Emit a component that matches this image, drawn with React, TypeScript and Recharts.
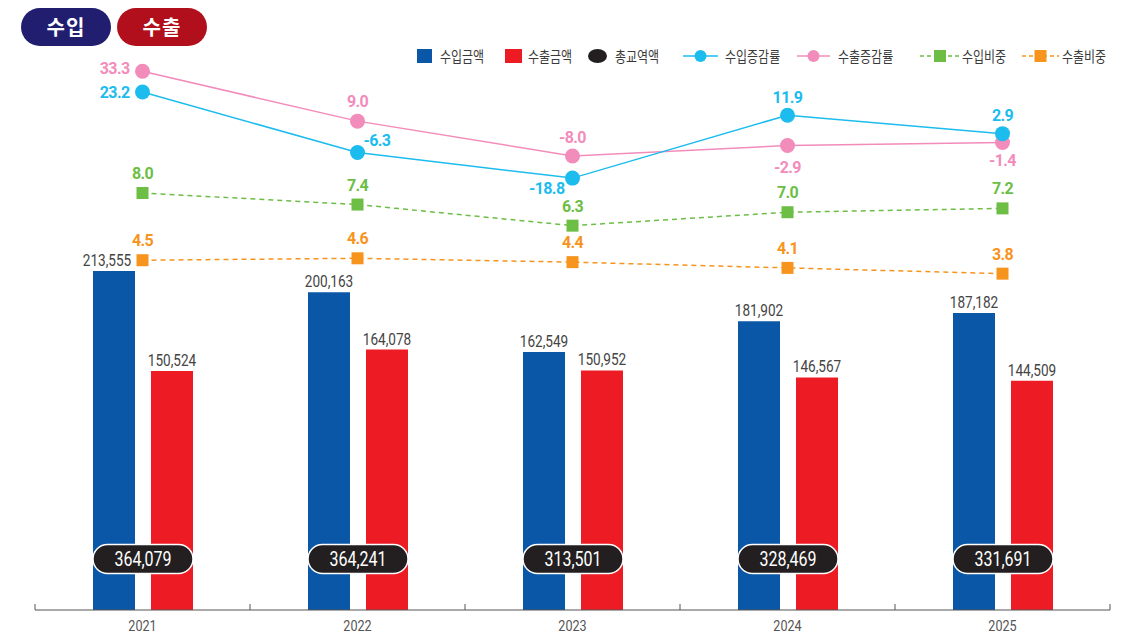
import React from 'react';
import { ComposedChart, Bar, Line, XAxis, YAxis, LabelList } from 'recharts';

// ---- data ----
const years = ['2021', '2022', '2023', '2024', '2025'];
const importAmt = [213555, 200163, 162549, 181902, 187182];
const exportAmt = [150524, 164078, 150952, 146567, 144509];
const totalAmt = [364079, 364241, 313501, 328469, 331691];
const importRate = [23.2, -6.3, -18.8, 11.9, 2.9];
const exportRate = [33.3, 9.0, -8.0, -2.9, -1.4];
const importShare = [8.0, 7.4, 6.3, 7.0, 7.2];
const exportShare = [4.5, 4.6, 4.4, 4.1, 3.8];

const data = years.map((y, i) => ({
  year: y,
  importAmt: importAmt[i],
  exportAmt: exportAmt[i],
  total: totalAmt[i],
  importRate: importRate[i],
  exportRate: exportRate[i],
  importShare: importShare[i],
  exportShare: exportShare[i],
}));

// ---- styling / layout ----
const W = 1141;
const H = 634;
const M = { top: 50, right: 31, left: 35, bottom: 0 };
const BAND = (W - M.left - M.right) / years.length;
const BAR_GAP = 16;
const FONT = 'Roboto, "Noto Sans CJK KR", sans-serif';
const KFONT = '"Noto Sans CJK KR", "Noto Sans", sans-serif';

const C = {
  imp: '#0a57a8',
  exp: '#ed1c24',
  total: '#231f20',
  impRate: '#1cbcee',
  expRate: '#f28cbb',
  impShare: '#6cbe45',
  expShare: '#f7941d',
};

// label placement: [anchor, dx, dy]
type Place = [string, number, number];
const impRatePlace: Place[] = [
  ['end', -13, 6], ['start', 6, -6], ['end', -8, 16], ['middle', 0, -12], ['middle', 0, -13],
];
const expRatePlace: Place[] = [
  ['end', -13, 3], ['middle', 0, -14], ['middle', 0, -13], ['middle', 0, 27], ['middle', 0, 24],
];
const sharePlace: Place[] = [
  ['middle', 0, -14], ['middle', 0, -14], ['middle', 0, -14], ['middle', 0, -14], ['middle', 0, -14],
];
const impLabelDx = [-7, 0, 0, 0, 0];

// narrow text helper (horizontal compression of a real text element)
const NarrowText = ({ x, y, size, fill, sx, children }: any) => (
  <text
    transform={`translate(${x},${y}) scale(${sx},1)`}
    x={0}
    y={0}
    textAnchor="middle"
    fill={fill}
    fontSize={size}
    fontFamily={FONT}
  >
    {children}
  </text>
);

const makeLineLabel = (color: string, place: Place[], size: number) => (props: any) => {
  const { x, y, value, index } = props;
  const p = place[index] || ['middle', 0, -14];
  return (
    <text
      x={x + p[1]}
      y={y + p[2]}
      textAnchor={p[0] as any}
      fill={color}
      fontSize={size}
      fontWeight={700}
      fontFamily={FONT}
      letterSpacing={-0.6}
    >
      {Number(value).toFixed(1)}
    </text>
  );
};

const makeBarLabel = (dxs: number[]) => (props: any) => {
  const { x, y, width, value, index } = props;
  return (
    <NarrowText x={x + width / 2 + (dxs[index] || 0)} y={y - 5} size={16} fill="#444" sx={0.85}>
      {Number(value).toLocaleString('en-US')}
    </NarrowText>
  );
};

const TotalPill = (props: any) => {
  const { x, y, height, value } = props;
  const cx = x - BAR_GAP / 2;
  const cy = y + height - 51;
  const w = 100;
  const h = 29;
  return (
    <g>
      <rect x={cx - w / 2} y={cy - h / 2} width={w} height={h} rx={14.5} fill={C.total} stroke="#fff" strokeWidth={1.5} />
      <NarrowText x={cx} y={cy + 7} size={20} fill="#fff" sx={0.8}>
        {Number(value).toLocaleString('en-US')}
      </NarrowText>
    </g>
  );
};

const squareDot = (color: string) => (props: any) => {
  const { cx, cy, index } = props;
  return <rect key={`sq-${color}-${index}`} x={cx - 6} y={cy - 6} width={12} height={12} fill={color} />;
};

const XTick = (props: any) => {
  const { x, y, payload, index } = props;
  return (
    <g>
      <NarrowText x={x} y={y + 20.5} size={15} fill="#555" sx={0.84}>
        {payload.value}
      </NarrowText>
      <line x1={x + BAND / 2} x2={x + BAND / 2} y1={y - 6} y2={y} stroke="#555" />
      {index === 0 && <line x1={x - BAND / 2} x2={x - BAND / 2} y1={y - 6} y2={y} stroke="#555" />}
    </g>
  );
};

// legend: marker left, marker width, text left
const legendItems: { label: string; kind: string; color: string; mLeft: number; mWidth: number; tLeft: number }[] = [
  { label: '수입금액', kind: 'square', color: C.imp, mLeft: 417, mWidth: 15, tLeft: 440 },
  { label: '수출금액', kind: 'square', color: C.exp, mLeft: 505, mWidth: 17, tLeft: 528 },
  { label: '총교역액', kind: 'circle', color: C.total, mLeft: 588, mWidth: 19, tLeft: 615 },
  { label: '수입증감률', kind: 'line', color: C.impRate, mLeft: 683, mWidth: 35, tLeft: 725 },
  { label: '수출증감률', kind: 'line', color: C.expRate, mLeft: 797, mWidth: 33, tLeft: 838 },
  { label: '수입비중', kind: 'dash', color: C.impShare, mLeft: 920, mWidth: 40, tLeft: 962 },
  { label: '수출비중', kind: 'dash', color: C.expShare, mLeft: 1022, mWidth: 37, tLeft: 1062 },
];

const LegendMarker = ({ kind, color, w }: { kind: string; color: string; w: number }) => {
  if (kind === 'square') {
    return (
      <svg width={w} height={14}>
        <rect x={0} y={0} width={w} height={14} fill={color} />
      </svg>
    );
  }
  if (kind === 'circle') {
    return (
      <svg width={w} height={14}>
        <ellipse cx={w / 2} cy={7} rx={w / 2} ry={7} fill={color} />
      </svg>
    );
  }
  if (kind === 'line') {
    return (
      <svg width={w} height={14}>
        <line x1={0} x2={w} y1={7} y2={7} stroke={color} strokeWidth={1.5} />
        <circle cx={w / 2} cy={7} r={6} fill={color} />
      </svg>
    );
  }
  return (
    <svg width={w} height={14}>
      <line x1={0} x2={w} y1={7} y2={7} stroke={color} strokeWidth={1.5} strokeDasharray="4 3" />
      <rect x={w / 2 - 6} y={1} width={12} height={12} fill={color} />
    </svg>
  );
};

const HeaderPill = ({ text, bg, left }: { text: string; bg: string; left: number }) => (
  <div
    style={{
      position: 'absolute',
      left,
      top: 8,
      width: 90,
      height: 38,
      borderRadius: 19,
      background: bg,
      color: '#fff',
      fontFamily: KFONT,
      fontWeight: 700,
      fontSize: 20,
      lineHeight: '38px',
      textAlign: 'center',
      letterSpacing: 1,
    }}
  >
    {text}
  </div>
);

export default function App() {
  return (
    <div style={{ position: 'absolute', left: 0, top: 0, width: W, height: H, background: '#fff', fontFamily: FONT }}>
      <ComposedChart width={W} height={H} data={data} margin={M} barGap={BAR_GAP}>
        <XAxis
          dataKey="year"
          height={24}
          axisLine={{ stroke: '#555' }}
          tickLine={false}
          tickSize={0}
          tickMargin={0}
          tick={<XTick />}
          interval={0}
        />
        <YAxis yAxisId="amt" hide type="number" domain={[0, 352867]} allowDataOverflow />
        <YAxis yAxisId="rate" hide type="number" domain={[-229.5, 43.7]} allowDataOverflow />
        <YAxis yAxisId="share" hide type="number" domain={[-13.72, 15.45]} allowDataOverflow />

        <Bar yAxisId="amt" dataKey="importAmt" fill={C.imp} barSize={42} isAnimationActive={false}>
          <LabelList dataKey="importAmt" content={makeBarLabel(impLabelDx)} />
        </Bar>
        <Bar yAxisId="amt" dataKey="exportAmt" fill={C.exp} barSize={42} isAnimationActive={false}>
          <LabelList dataKey="exportAmt" content={makeBarLabel([0, 0, 0, 0, 0])} />
          <LabelList dataKey="total" content={TotalPill} />
        </Bar>

        <Line
          yAxisId="rate"
          dataKey="exportRate"
          stroke={C.expRate}
          strokeWidth={1.5}
          dot={{ r: 7.5, fill: C.expRate, stroke: 'none' }}
          activeDot={false}
          isAnimationActive={false}
        >
          <LabelList dataKey="exportRate" content={makeLineLabel(C.expRate, expRatePlace, 16)} />
        </Line>
        <Line
          yAxisId="rate"
          dataKey="importRate"
          stroke={C.impRate}
          strokeWidth={1.5}
          dot={{ r: 7.5, fill: C.impRate, stroke: 'none' }}
          activeDot={false}
          isAnimationActive={false}
        >
          <LabelList dataKey="importRate" content={makeLineLabel(C.impRate, impRatePlace, 16)} />
        </Line>
        <Line
          yAxisId="share"
          dataKey="importShare"
          stroke={C.impShare}
          strokeWidth={1.5}
          strokeDasharray="5 4"
          dot={squareDot(C.impShare)}
          activeDot={false}
          isAnimationActive={false}
        >
          <LabelList dataKey="importShare" content={makeLineLabel(C.impShare, sharePlace, 16)} />
        </Line>
        <Line
          yAxisId="share"
          dataKey="exportShare"
          stroke={C.expShare}
          strokeWidth={1.5}
          strokeDasharray="5 4"
          dot={squareDot(C.expShare)}
          activeDot={false}
          isAnimationActive={false}
        >
          <LabelList dataKey="exportShare" content={makeLineLabel(C.expShare, sharePlace, 16)} />
        </Line>
      </ComposedChart>

      <HeaderPill text="수입" bg="#211d6f" left={21} />
      <HeaderPill text="수출" bg="#b10f1b" left={117} />

      {legendItems.map((it) => (
        <React.Fragment key={it.label}>
          <div style={{ position: 'absolute', left: it.mLeft, top: 49, height: 14, lineHeight: 0 }}>
            <LegendMarker kind={it.kind} color={it.color} w={it.mWidth} />
          </div>
          <div
            style={{
              position: 'absolute',
              left: it.tLeft,
              top: 45,
              height: 22,
              lineHeight: '22px',
              fontFamily: KFONT,
              fontSize: 15,
              color: '#3a3a3a',
              whiteSpace: 'nowrap',
              transform: 'scaleX(0.8)',
              transformOrigin: 'left center',
            }}
          >
            {it.label}
          </div>
        </React.Fragment>
      ))}
    </div>
  );
}
